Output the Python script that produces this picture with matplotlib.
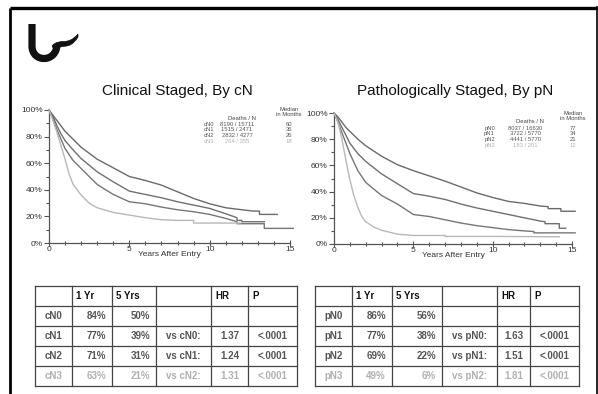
import matplotlib.pyplot as plt
from matplotlib.path import Path
from matplotlib.patches import PathPatch

plt.rcParams['font.family'] = ['Liberation Sans', 'DejaVu Sans']

W, H = 598, 394

# ---- survival curves (years, % surviving) ----
cn0_t = [0, 0.25, 0.5, 0.75, 1, 1.5, 2, 3, 4, 5, 6, 7, 8, 9, 10, 11, 12, 12.7, 13.1, 13.1, 14.2]
cn0_s = [100, 96, 92, 88, 84, 78, 72, 63, 56.5, 50, 47, 43.5, 38.5, 33.5, 29.5, 26.5, 25, 24, 24, 21.5, 21.5]
cn1_t = [0, 0.25, 0.5, 0.75, 1, 1.5, 2, 3, 4, 5, 6, 7, 8, 9, 10, 11, 11.7, 11.7, 12, 12, 13.4]
cn1_s = [100, 95, 88, 82, 77, 70, 63.5, 53.5, 46, 39, 36.5, 34, 31, 28.5, 26, 22, 19, 17, 17, 16, 16]
cn2_t = [0, 0.25, 0.5, 0.75, 1, 1.5, 2, 3, 4, 5, 6, 7, 8, 9, 10, 11, 11.7, 11.7, 13.4, 13.4, 15.2]
cn2_s = [100, 93, 85, 78, 71, 62, 56, 44, 36.5, 31, 29.5, 27, 25, 23.5, 21.5, 18.5, 16, 14.5, 14.5, 11, 11]
cn3_t = [0, 0.25, 0.5, 0.75, 1, 1.25, 1.5, 2, 2.5, 3, 4, 5, 6, 7, 8, 9, 9, 11.9]
cn3_s = [100, 92, 83, 73, 63, 52, 44, 36, 30, 26.5, 23, 21, 19, 17.5, 17, 17, 15, 15]

pn0_t = [0, 0.25, 0.5, 0.75, 1, 1.5, 2, 3, 4, 5, 6, 7, 8, 9, 10, 11, 12, 13, 13.5, 13.5, 14.3, 14.3, 15.2]
pn0_s = [100, 97, 93, 89, 86, 80, 75, 67, 60.5, 56, 52, 48, 43.5, 39, 35.5, 32.5, 31, 29, 28.5, 27, 27, 25, 25]
pn1_t = [0, 0.25, 0.5, 0.75, 1, 1.5, 2, 3, 4, 5, 6, 7, 8, 9, 10, 11, 12, 13, 13.3, 13.3, 14.2, 14.2, 14.6]
pn1_s = [100, 95, 89, 83, 77, 69, 63, 53.5, 46, 38.5, 36.5, 34, 30.5, 27.5, 25, 22.5, 20, 17.5, 17, 15.5, 15.5, 12, 12]
pn2_t = [0, 0.25, 0.5, 0.75, 1, 1.5, 2, 3, 4, 5, 6, 7, 8, 9, 10, 11, 12, 12.6, 12.6, 15.2]
pn2_s = [100, 93, 85, 77, 69, 56, 47, 37, 30.5, 22.5, 21, 18.5, 16, 14, 12.5, 11, 10, 9.5, 8.5, 8.5]
pn3_t = [0, 0.25, 0.5, 0.75, 1, 1.25, 1.5, 1.75, 2, 2.5, 3, 4, 5, 7, 7, 10, 14.2]
pn3_s = [100, 93, 80, 64, 49, 37, 28, 21, 17, 13, 10.5, 7.5, 6.5, 6.5, 5.8, 5.8, 5.5]

# ---- legend numbers ----
c_groups = ['cN0', 'cN1', 'cN2', 'cN3']
c_deaths = [8190, 1515, 2832, 264]
c_n = [15711, 2471, 4277, 355]
c_median = [60, 36, 26, 18]
p_groups = ['pN0', 'pN1', 'pN2', 'pN3']
p_deaths = [8037, 3722, 4441, 183]
p_n = [16630, 5770, 5770, 201]
p_median = [77, 34, 21, 12]

# ---- table numbers ----
c_1yr = [84, 77, 71, 63]
c_5yr = [50, 39, 31, 21]
c_hr = [None, 1.37, 1.24, 1.31]
p_1yr = [86, 77, 69, 49]
p_5yr = [56, 38, 22, 6]
p_hr = [None, 1.63, 1.51, 1.81]
p_value = [None, '<.0001', '<.0001', '<.0001']

y_ticks = [0, 20, 40, 60, 80, 100]
x_ticks = [0, 5, 10, 15]

line_colors = ['#6a6a6a', '#707070', '#767676', '#b8b8b8']
text_colors = ['#555555', '#555555', '#555555', '#b0b0b0']
LEG_FS = 4.2


def px_rect(x0, y0, x1, y1):
    return [x0 / W, 1 - y1 / H, (x1 - x0) / W, (y1 - y0) / H]


fig = plt.figure(figsize=(W / 100, H / 100), dpi=100)
canvas = fig.add_axes([0, 0, 1, 1])
canvas.set_xlim(0, W)
canvas.set_ylim(H, 0)
canvas.axis('off')

# frame
canvas.plot([10, 10], [8, H], color='black', lw=2.0, solid_capstyle='butt')
canvas.plot([10, 596.5], [7.5, 7.5], color='black', lw=2.4, solid_capstyle='butt')
canvas.plot([596.5, 596.5], [7, H], color='black', lw=1.2)

# logo
u_path = Path([(32, 24), (32, 46), (32, 63), (57, 63), (57, 44)],
              [Path.MOVETO, Path.LINETO, Path.CURVE4, Path.CURVE4, Path.CURVE4])
canvas.add_patch(PathPatch(u_path, fill=False, lw=5.2, edgecolor='#111111', capstyle='butt'))
wave = Path([(52, 46), (60, 37), (67, 47), (78, 34), (78, 37), (69, 52), (60, 42), (55, 51), (52, 46)],
            [Path.MOVETO, Path.CURVE4, Path.CURVE4, Path.CURVE4, Path.LINETO,
             Path.CURVE4, Path.CURVE4, Path.CURVE4, Path.CLOSEPOLY])
canvas.add_patch(PathPatch(wave, facecolor='#111111', edgecolor='#111111', lw=0.5))

# titles
canvas.text(177, 91, 'Clinical Staged, By cN', ha='center', va='center', fontsize=11, color='#111111')
canvas.text(455, 91, 'Pathologically Staged, By pN', ha='center', va='center', fontsize=11, color='#111111')


def km_panel(rect, curves, groups, deaths, ns, medians, leg):
    ax = fig.add_axes(rect)
    for (t, s), col in zip(curves, line_colors):
        ax.plot(t, s, color=col, lw=1.0, clip_on=False, zorder=3)
    ax.set_xlim(0, 15)
    ax.set_ylim(0, 100)
    ax.set_facecolor('none')
    for side in ['top', 'right']:
        ax.spines[side].set_visible(False)
    for side in ['left', 'bottom']:
        ax.spines[side].set_color('#555555')
        ax.spines[side].set_linewidth(0.9)
    ax.set_yticks(y_ticks)
    ax.set_yticklabels([f'{v}%' for v in y_ticks])
    ax.set_yticks(range(10, 100, 20), minor=True)
    ax.set_xticks(x_ticks)
    ax.set_xticks(range(0, 16), minor=True)
    ax.tick_params(axis='y', which='major', length=3.5, width=0.8, color='#555555',
                   labelsize=6, labelcolor='#333333', pad=1)
    ax.tick_params(axis='y', which='minor', length=2, width=0.8, color='#555555')
    ax.tick_params(axis='x', which='major', direction='inout', length=4, width=0.8,
                   color='#555555', labelsize=6, labelcolor='#333333', pad=0)
    ax.tick_params(axis='x', which='minor', direction='inout', length=3, width=0.8, color='#555555')
    ax.set_xlabel('Years After Entry', fontsize=6, color='#333333', labelpad=-1)

    # in-plot legend
    lx, nx, mx, hy, my, y0, dy = leg
    canvas.text(nx + 5, hy, 'Deaths / N', ha='center', va='center', fontsize=LEG_FS, color='#444444')
    canvas.text(mx, my, 'Median\nin Months', ha='center', va='center', fontsize=LEG_FS,
                color='#444444', linespacing=1.0)
    for i, g in enumerate(groups):
        y = y0 + i * dy
        canvas.text(lx, y, g, ha='right', va='center', fontsize=LEG_FS, color=text_colors[i])
        canvas.text(nx, y, f'{deaths[i]} / {ns[i]}', ha='center', va='center', fontsize=LEG_FS,
                    color=text_colors[i])
        canvas.text(mx, y, f'{medians[i]}', ha='center', va='center', fontsize=LEG_FS,
                    color=text_colors[i])
    return ax


km_panel(px_rect(49, 110, 290, 243),
         [(cn0_t, cn0_s), (cn1_t, cn1_s), (cn2_t, cn2_s), (cn3_t, cn3_s)],
         c_groups, c_deaths, c_n, c_median,
         (214, 237, 289, 118, 112, 124, 5.8))
km_panel(px_rect(334, 113, 572, 244),
         [(pn0_t, pn0_s), (pn1_t, pn1_s), (pn2_t, pn2_s), (pn3_t, pn3_s)],
         p_groups, p_deaths, p_n, p_median,
         (495, 525, 573, 121.5, 116, 128, 5.8))


def draw_table(xs, ys, groups, one_yr, five_yr, hr, pvals):
    for x in xs:
        canvas.plot([x, x], [ys[0], ys[-1]], color='#444444', lw=0.9)
    for y in ys:
        canvas.plot([xs[0], xs[-1]], [y, y], color='#444444', lw=0.9)
    headers = ['', '1 Yr', '5 Yrs', '', 'HR', 'P']
    hy = (ys[0] + ys[1]) / 2
    for j, h in enumerate(headers):
        canvas.text(xs[j] + 4, hy, h, ha='left', va='center', fontsize=7,
                    fontweight='bold', color='#111111')
    for i, g in enumerate(groups):
        y = (ys[i + 1] + ys[i + 2]) / 2
        col = text_colors[i]
        kw = dict(va='center', fontsize=7, fontweight='bold', color=col)
        canvas.text((xs[0] + xs[1]) / 2, y, g, ha='center', **kw)
        canvas.text(xs[2] - 6, y, f'{one_yr[i]}%', ha='right', **kw)
        canvas.text(xs[3] - 6, y, f'{five_yr[i]}%', ha='right', **kw)
        if hr[i] is not None:
            canvas.text((xs[3] + xs[4]) / 2, y, f'vs {groups[i - 1]}:', ha='center', **kw)
            canvas.text((xs[4] + xs[5]) / 2, y, f'{hr[i]:.2f}', ha='center', **kw)
            canvas.text((xs[5] + xs[6]) / 2, y, pvals[i], ha='center', **kw)


row_edges = [286, 306, 326, 346, 366, 386]
draw_table([35, 72, 112, 156, 211, 248, 297], row_edges, c_groups, c_1yr, c_5yr, c_hr, p_value)
draw_table([315, 352, 392, 442, 497, 530, 579], row_edges, p_groups, p_1yr, p_5yr, p_hr, p_value)

fig.savefig('out.png', dpi=100)
